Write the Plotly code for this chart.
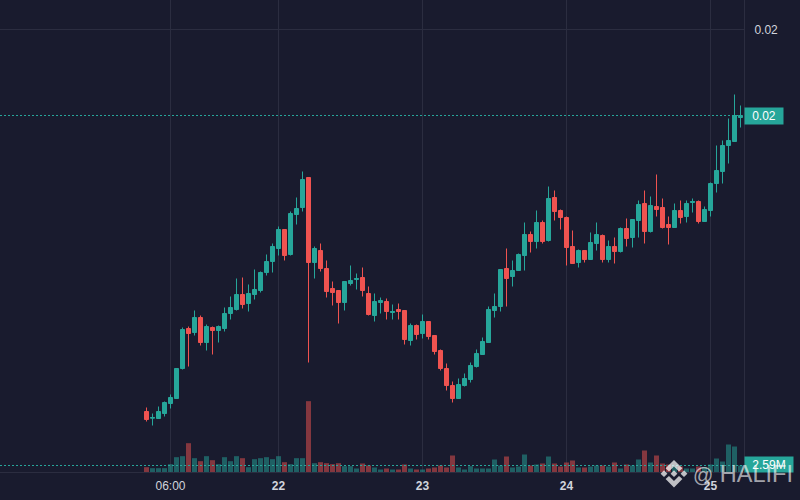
import plotly.graph_objects as go

# Prices are stored in millionths
open_micro = [19890,19823,19820,19870,19970,20020,20320,20720,20680,20830,
              20580,20730,20700,20720,20870,20910,21060,20970,21060,21100,
              21280,21390,21520,21710,21460,21860,21930,22230,21380,21500,
              21320,21120,21100,20980,21170,21210,21230,21070,20850,20980,
              20990,20880,20910,20900,20600,20750,20670,20790,20650,20500,
              20320,20150,20020,20150,20210,20340,20460,20580,20900,20940,
              21320,21240,21300,21450,21660,21590,21780,21600,22030,21900,
              21830,21540,21380,21500,21410,21570,21650,21410,21540,21490,
              21720,21630,21800,21970,21690,21940,21930,21760,21730,21900,
              21840,21980,21990,21790,21900,22170,22290,22550,22590,22830]
high_micro = [19930,19870,19940,19990,20060,20320,20730,20740,20900,20850,
              20760,20740,20750,20930,21040,21220,21230,21160,21310,21290,
              21460,21570,21740,21710,21890,22030,22290,22230,21540,21570,
              21400,21190,21100,21190,21350,21270,21330,21140,21070,21030,
              21020,20960,20970,20900,20770,20760,20860,20790,20650,20510,
              20370,20190,20220,20270,20380,20510,20630,20940,21070,21310,
              21520,21400,21470,21780,21690,21900,21800,22140,22100,21910,
              21840,21700,21510,21500,21680,21780,21660,21600,21630,21730,
              21820,21810,22000,22100,22040,22260,22020,21840,21970,22000,
              22000,22020,22000,21940,22180,22550,22600,22820,23060,22950]
low_micro = [19790,19750,19820,19840,19920,20020,20310,20340,20650,20550,
             20500,20460,20580,20690,20810,20900,20920,20890,21010,21080,
             21250,21280,21450,21400,21450,21760,21890,20380,21220,21290,
             21030,20950,20770,20900,21150,21110,21040,20850,20790,20870,
             20810,20810,20810,20560,20550,20610,20620,20610,20460,20300,
             20100,19980,20020,20140,20180,20330,20460,20580,20830,20890,
             20940,21140,21300,21300,21480,21520,21570,21590,21800,21710,
             21350,21370,21330,21380,21410,21500,21380,21380,21370,21480,
             21540,21530,21630,21570,21680,21840,21720,21560,21730,21770,
             21780,21880,21770,21790,21840,22080,22170,22370,22590,22730]
close_micro = [19810,19830,19890,19980,20030,20320,20710,20670,20830,20580,
               20740,20700,20740,20870,20930,21060,20960,21070,21110,21280,
               21390,21540,21710,21450,21870,21920,22210,21380,21520,21320,
               21090,21080,20980,21190,21200,21220,21100,20860,20990,21000,
               20890,20890,20890,20610,20750,20660,20790,20640,20490,20320,
               20150,20020,20160,20220,20350,20470,20590,20910,20940,21310,
               21220,21300,21460,21660,21590,21780,21590,22020,21890,21830,
               21530,21370,21500,21410,21580,21660,21410,21540,21490,21720,
               21620,21810,21960,21690,21950,21910,21730,21730,21900,21830,
               21970,21990,21790,21910,22170,22300,22550,22600,22850,22850]
volume_m = [1.97,1.6,1.6,1.6,3.08,5.67,6.04,10.85,5.3,4.19,
            6.04,4.56,3.08,5.67,4.19,6.04,5.3,1.97,4.93,5.3,
            5.67,4.93,6.04,3.82,3.08,5.3,5.3,26.4,3.45,3.82,
            3.45,3.08,3.45,2.34,2.34,1.48,3.33,2.59,1.85,1.11,
            1.48,1.11,1.11,2.96,1.48,1.11,1.11,1.48,1.85,2.59,
            1.85,6.29,1.85,1.11,2.34,1.48,1.48,1.48,4.81,2.59,
            5.92,1.85,2.22,6.66,2.59,2.96,3.33,5.92,3.33,2.22,
            3.7,4.44,1.85,1.85,2.22,2.59,2.59,2.22,3.7,1.48,
            2.96,2.59,4.81,8.14,3.7,6.29,3.33,2.96,2.22,2.22,
            1.48,1.48,2.22,1.85,2.96,5.18,4.07,10.36,9.62,2.59]
hours = list(range(len(open_micro)))
time_ticks = [4, 22, 46, 70, 94]
time_labels = ["06:00", "<b>22</b>", "<b>23</b>", "<b>24</b>", "<b>25</b>"]
price_tick = [0.02371]
price_tick_labels = ["0.02"]
last_price_label = "0.02"
last_volume_label = "2.59M"

UP, DOWN = "#26a69a", "#ef5350"
BG, GRID = "#191b2e", "#2b2d40"
W, H = 800, 500
PLOT_R, PLOT_B = 744, 472

opens = [v / 1e6 for v in open_micro]
highs = [v / 1e6 for v in high_micro]
lows = [v / 1e6 for v in low_micro]
closes = [v / 1e6 for v in close_micro]

fig = go.Figure()
fig.add_trace(go.Bar(
    x=hours, y=volume_m, yaxis="y2", width=5 / 6, showlegend=False,
    marker=dict(line_width=0, color=[
        "rgba(38,166,154,0.5)" if c >= o else "rgba(239,83,80,0.5)"
        for o, c in zip(open_micro, close_micro)]),
))
fig.add_trace(go.Candlestick(
    x=hours, open=opens, high=highs, low=lows, close=closes, showlegend=False,
    whiskerwidth=0,
    increasing=dict(line=dict(color=UP, width=1), fillcolor=UP),
    decreasing=dict(line=dict(color=DOWN, width=1), fillcolor=DOWN),
))

def px(x):
    return x / PLOT_R

def py(y):
    return 1 - y / PLOT_B

def logo_path(points):
    cx, cy = 674, 473.7
    pts = [f"{px(cx + a):.5f},{py(cy + b):.5f}" for a, b in points]
    return "M" + " L".join(pts) + " Z"

logo_parts = [
    [(0, -3.4), (3.4, 0), (0, 3.4), (-3.4, 0)],
    [(-10, -3.4), (-6.6, 0), (-10, 3.4), (-13.4, 0)],
    [(10, -3.4), (13.4, 0), (10, 3.4), (6.6, 0)],
    [(0, -13.8), (8.4, -5.4), (5, -2.2), (0, -7.2), (-5, -2.2), (-8.4, -5.4)],
    [(0, 13.8), (8.4, 5.4), (5, 2.2), (0, 7.2), (-5, 2.2), (-8.4, 5.4)],
]
shapes = [
    dict(type="line", xref="paper", yref="y", x0=0, x1=1, y0=closes[-1], y1=closes[-1],
         line=dict(color=UP, width=1, dash="2px,2px")),
    dict(type="line", xref="paper", yref="y2", x0=0, x1=1, y0=volume_m[-1], y1=volume_m[-1],
         line=dict(color=UP, width=1, dash="2px,2px")),
]
for part in logo_parts:
    shapes.append(dict(type="path", xref="paper", yref="paper", path=logo_path(part),
                       fillcolor="rgba(255,255,255,0.72)", line_width=0, layer="above"))

fig.update_layout(
    width=W, height=H, margin=dict(l=0, r=W - PLOT_R, t=0, b=H - PLOT_B, autoexpand=False),
    paper_bgcolor=BG, plot_bgcolor=BG, boxgap=1 / 3, boxgroupgap=0, showlegend=False,
    font=dict(family="Liberation Sans, Arial, sans-serif", size=12, color="#d1d4dc"),
    xaxis=dict(range=[-24.4167, 99.5833], rangeslider_visible=False, tickmode="array",
               tickvals=time_ticks, ticktext=time_labels, tickfont=dict(size=12, color="#d1d4dc"),
               showgrid=True, gridcolor=GRID, gridwidth=1, zeroline=False,
               showline=True, linecolor=GRID, ticks="outside", ticklen=3, tickcolor=BG),
    yaxis=dict(range=[0.019285, 0.024005], side="right", tickmode="array", tickvals=price_tick,
               ticktext=price_tick_labels, tickfont=dict(size=12, color="#d1d4dc"),
               showgrid=True, gridcolor=GRID, zeroline=False, showline=True, linecolor=GRID,
               ticks="outside", ticklen=7, tickcolor=BG),
    yaxis2=dict(range=[0.185, 174.825], overlaying="y", side="right", showgrid=False,
                showticklabels=False, zeroline=False, ticks=""),
    shapes=shapes,
    annotations=[
        dict(xref="paper", yref="y", x=1, y=closes[-1], xanchor="left", yanchor="middle",
             text=last_price_label, showarrow=False, bgcolor=UP, width=38, height=16,
             align="center", font=dict(size=12, color="#ffffff"), borderpad=0),
        dict(xref="paper", yref="y2", x=1, y=volume_m[-1] + 0.4, xanchor="left", yanchor="middle",
             text=last_volume_label, showarrow=False, bgcolor=UP, width=48, height=15,
             align="center", font=dict(size=12, color="#ffffff"), borderpad=0),
        dict(xref="paper", yref="paper", x=px(691), y=py(474), xanchor="left", yanchor="middle",
             text='<span style="font-size:20px">@</span> HALIFI', showarrow=False,
             font=dict(size=23.5, color="rgba(255,255,255,0.62)", family="Liberation Sans, Arial, sans-serif")),
    ],
)
fig.write_html("out.html", config={"displayModeBar": False},
               post_script="document.body.style.margin='0';document.documentElement.style.background='#191b2e';")
